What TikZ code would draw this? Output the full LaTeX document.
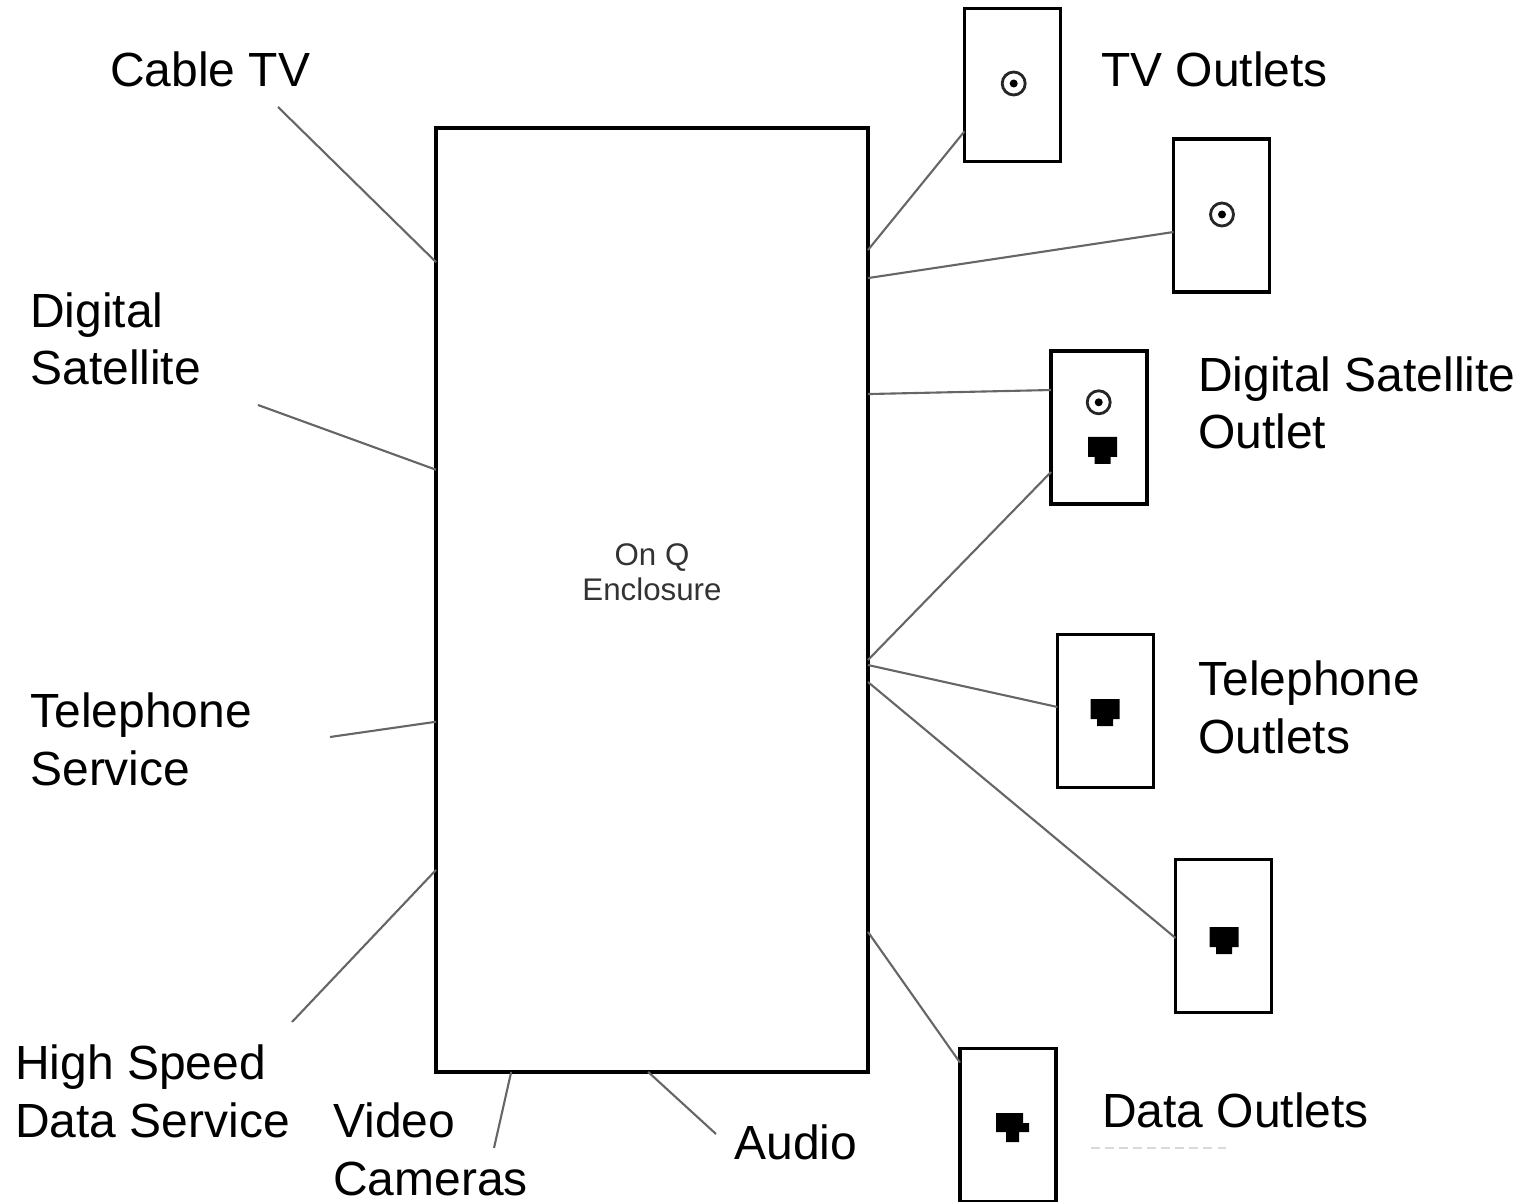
\documentclass[tikz,border=0pt]{standalone}
\usepackage{fontspec}
\setmainfont{Liberation Sans}
\usetikzlibrary{calc}
\tikzset{
  box/.style={draw, line width=1.9pt, inner sep=0pt, outer sep=0pt},
  outlet/.style={box, minimum width=1.92cm, minimum height=3.06cm},
  wire/.style={color=black!60, line width=1.2pt},
  lbl/.style={inner sep=0pt, anchor=base west, align=left, font=\fontsize{27.3}{32.9}\selectfont},
  small/.style={inner sep=0pt, align=center, color=black!80, font=\fontsize{17.8}{19.8}\selectfont},
  coax/.style={draw=black!85, line width=1.6pt, fill=white},
}
\begin{document}
\begin{tikzpicture}[x=0.02cm, y=-0.02cm]
\useasboundingbox (0,0) rectangle (1532,1202);
%%%%% Boxes %%%%%
\node[box, minimum width=8.64cm, minimum height=18.88cm] (encl) at (652,600) {};
\node[outlet] (tvA) at (1012.5,85) {};
\node[outlet] (tvB) at (1221.5,215.5) {};
\node[outlet] (sat) at (1099,427.5) {};
\node[outlet] (tel) at (1105.5,711) {};
\node[outlet] (dataA) at (1223.5,936) {};
\node[outlet] (dataB) at (1008,1125) {};
%%%%% Labels %%%%%
\node[small] (enclLbl) at (652,572) {On Q\\Enclosure};
\node[lbl] (cable) at (110,87) {Cable TV};
\node[lbl] (dsat) at (30,385) {Digital\\Satellite};
\node[lbl] (phone) at (30,785) {Telephone\\Service};
\node[lbl] (speed) at (15,1137) {High Speed\\Data Service};
\node[lbl] (video) at (333,1195) {Video\\Cameras};
\node[lbl] (audio) at (734,1159) {Audio};
\node[lbl] (tvOut) at (1101,87) {TV Outlets};
\node[lbl] (satOut) at (1198,449) {Digital Satellite\\Outlet};
\node[lbl] (telOut) at (1198,753) {Telephone\\Outlets};
\node[lbl] (dataOut) at (1102,1127) {Data Outlets};
%%%%% Free ends %%%%%
\coordinate (cableEnd) at (278,107);
\coordinate (dsatEnd) at (258,405);
\coordinate (phoneEnd) at (330,737);
\coordinate (speedEnd) at (292,1022);
\coordinate (videoEnd) at (494,1148);
\coordinate (audioEnd) at (716,1134);
%%%%% Wires %%%%%
\foreach \e/\f in {cableEnd/0.142,dsatEnd/0.362,phoneEnd/0.629,speedEnd/0.786}{
\draw[wire] (\e)--($(encl.north west)!\f!(encl.south west)$);
}
\foreach \e/\f in {videoEnd/0.174,audioEnd/0.491}{
\draw[wire] (\e)--($(encl.south west)!\f!(encl.south east)$);
}
\foreach \f/\b/\g in {0.1292/tvA/0.803,0.1589/tvB/0.608,0.2818/sat/0.255,0.5636/sat/0.791,0.5689/tel/0.474,0.5869/dataA/0.513,0.8517/dataB/0.092}{
\draw[wire] ($(encl.north east)!\f!(encl.south east)$)--($(\b.north west)!\g!(\b.south west)$);
}
%%%%% Jacks %%%%%
\foreach \x/\y in {1013.7/83.5,1222/214.5,1098.7/402.3}{
\draw[coax] (\x,\y) circle (0.23cm);
\fill[black] (\x,\y) circle (0.08cm);
}
\foreach \x/\y in {1102.5/437,1105/699,1224/927}{
\fill[black] (\x-14.5,\y)--(\x+14.5,\y)--(\x+14.5,\y+20)--(\x+8,\y+20)--(\x+8,\y+27)--(\x-8,\y+27)--(\x-8,\y+20)--(\x-14.5,\y+20)--cycle;
}
\fill[black] (996,1113)--(1023,1113)--(1023,1123)--(1029,1123)--(1029,1132)--(1019,1132)--(1019,1142)--(1006,1142)--(1006,1132)--(996,1132)--cycle;
\draw[color=black!15, line width=0.6pt, dash pattern=on 5pt off 3pt] (1091,1148)--(1228,1148);
\end{tikzpicture}
\end{document}
